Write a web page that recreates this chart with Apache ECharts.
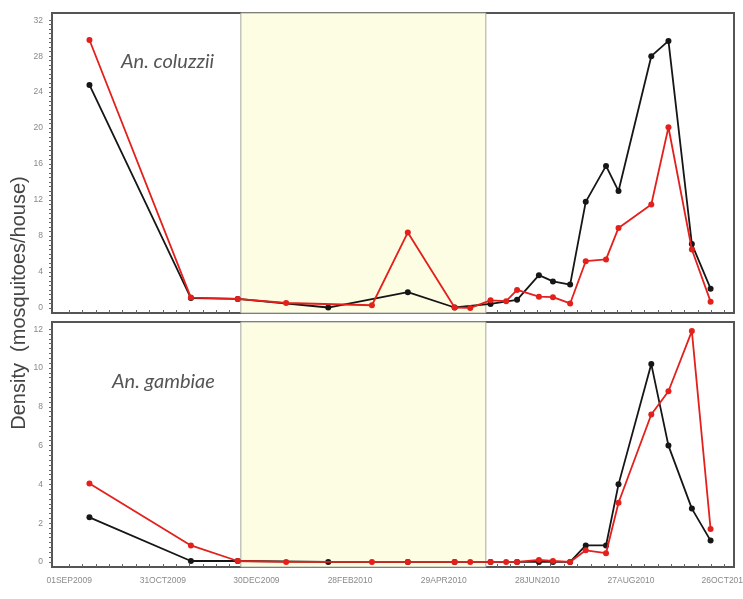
<!DOCTYPE html>
<html><head><meta charset="utf-8">
<script src="https://cdn.jsdelivr.net/npm/echarts@6/dist/echarts.min.js"></script>
<style>html,body{margin:0;padding:0;background:#fff}#c{width:743px;height:599px}</style>
</head><body><div id="c"></div>
<script>
// ---- data ----
const originDate = '2009-09-01';
const xTickDates = ['2009-09-01','2009-10-31','2009-12-30','2010-02-28','2010-04-29','2010-06-28','2010-08-27','2010-10-26'];
const xTickLabels = ['01SEP2009','31OCT2009','30DEC2009','28FEB2010','29APR2010','28JUN2010','27AUG2010','26OCT2010'];
const shadeDates = ['2009-12-20','2010-05-26'];

const blackDates = ['2009-09-14','2009-11-18','2009-12-18','2010-02-14','2010-04-06','2010-05-06','2010-05-29','2010-06-15',
  '2010-06-29','2010-07-08','2010-07-19','2010-07-29','2010-08-11','2010-08-19','2010-09-09','2010-09-20','2010-10-05','2010-10-17'];
const redDates = ['2009-09-14','2009-11-18','2009-12-18','2010-01-18','2010-03-14','2010-04-06','2010-05-06','2010-05-16','2010-05-29',
  '2010-06-08','2010-06-15','2010-06-29','2010-07-08','2010-07-19','2010-07-29','2010-08-11','2010-08-19','2010-09-09','2010-09-20','2010-10-05','2010-10-17'];

const coluzziiBlack = [24.8, 1.1, 1.0, 0.05, 1.75, 0.05, 0.45, 0.9, 3.65, 2.95, 2.6, 11.8, 15.8, 13.0, 28.0, 29.7, 7.1, 2.15];
const coluzziiRed   = [29.8, 1.15, 1.0, 0.55, 0.3, 8.4, 0.05, 0.0, 0.85, 0.75, 2.0, 1.25, 1.2, 0.5, 5.2, 5.4, 8.9, 11.5, 20.1, 6.5, 0.7];
const gambiaeBlack  = [2.3, 0.05, 0.05, 0.0, 0.0, 0.0, 0.0, 0.0, 0.0, 0.0, 0.0, 0.85, 0.85, 4.0, 10.2, 6.0, 2.75, 1.1];
const gambiaeRed    = [4.05, 0.85, 0.05, 0.0, 0.0, 0.0, 0.0, 0.0, 0.0, 0.0, 0.0, 0.1, 0.05, 0.0, 0.6, 0.45, 3.05, 7.6, 8.8, 11.9, 1.7];

const coluzziiTicks = [0, 4, 8, 12, 16, 20, 24, 28, 32];
const gambiaeTicks = [0, 2, 4, 6, 8, 10, 12];

const panelTitles = ['An. coluzzii', 'An. gambiae'];
const yTitle = 'Density  (mosquitoes/house)';

// ---- helpers ----
function dayOf(s) { return Math.round((Date.parse(s + 'T00:00:00Z') - Date.parse(originDate + 'T00:00:00Z')) / 86400000); }
function pairs(dates, vals) { return dates.map((d, i) => [dayOf(d), vals[i]]); }
function minorOf(ticks, n) {
  const out = [];
  for (let i = 0; i < ticks.length - 1; i++) {
    const step = (ticks[i + 1] - ticks[i]) / n;
    for (let k = 0; k < n; k++) out.push(ticks[i] + k * step);
  }
  out.push(ticks[ticks.length - 1]);
  return out;
}
const xTickDays = xTickDates.map(dayOf);
const xMinor = [];
for (let v = 0; v <= 426; v += 60 / 7) xMinor.push(v);
const labelByDay = {};
xTickDays.forEach((d, i) => labelByDay[d] = xTickLabels[i]);

const BLACK = '#161616', RED = '#e3201b';
const XMIN = -11, XMAX = 426;

function xAxisFor(idx, showLabels) {
  return {
    type: 'value', gridIndex: idx, min: XMIN, max: XMAX,
    axisLine: { show: true, onZero: false, lineStyle: { color: '#555', width: 2 } },
    axisTick: { show: true, inside: true, length: 3, customValues: xMinor, lineStyle: { color: '#666' } },
    axisLabel: {
      show: showLabels, customValues: xTickDays, margin: 9,
      formatter: v => labelByDay[Math.round(v)] || '',
      color: '#8a8a8a', fontSize: 8.5, fontFamily: 'Liberation Sans'
    },
    splitLine: { show: false }
  };
}
function yAxisFor(idx, min, max, ticks) {
  return {
    type: 'value', gridIndex: idx, min: min, max: max,
    axisLine: { show: true, onZero: false, lineStyle: { color: '#555', width: 2 } },
    axisTick: { show: true, length: 3, customValues: minorOf(ticks, 8), lineStyle: { color: '#666' } },
    axisLabel: { customValues: ticks, margin: 9, color: '#888', fontSize: 8.5, fontFamily: 'Liberation Sans' },
    splitLine: { show: false }
  };
}
function shade() {
  return {
    silent: true,
    itemStyle: { color: '#fdfde4', borderColor: '#a8a8a0', borderWidth: 1 },
    data: [[{ xAxis: dayOf(shadeDates[0]) }, { xAxis: dayOf(shadeDates[1]) }]]
  };
}
function line(name, idx, data, color, withShade) {
  const s = {
    name: name, type: 'line', xAxisIndex: idx, yAxisIndex: idx, data: data,
    symbol: 'circle', symbolSize: 6, showSymbol: true,
    lineStyle: { color: color, width: 1.8 }, itemStyle: { color: color },
    z: color === RED ? 4 : 3
  };
  if (withShade) s.markArea = shade();
  return s;
}

const chart = echarts.init(document.getElementById('c'), null, { renderer: 'canvas' });
chart.setOption({
  animation: false,
  backgroundColor: '#fff',
  grid: [
    { left: 52, right: 9, top: 13, height: 300, show: true, borderColor: '#555', borderWidth: 2, backgroundColor: 'transparent', containLabel: false, outerBoundsMode: 'none' },
    { left: 52, right: 9, top: 322, height: 245, show: true, borderColor: '#555', borderWidth: 2, backgroundColor: 'transparent', containLabel: false, outerBoundsMode: 'none' }
  ],
  xAxis: [xAxisFor(0, false), xAxisFor(1, true)],
  yAxis: [yAxisFor(0, -0.56, 32.8, coluzziiTicks), yAxisFor(1, -0.26, 12.37, gambiaeTicks)],
  series: [
    line('coluzzii black', 0, pairs(blackDates, coluzziiBlack), BLACK, true),
    line('coluzzii red', 0, pairs(redDates, coluzziiRed), RED, false),
    line('gambiae black', 1, pairs(blackDates, gambiaeBlack), BLACK, true),
    line('gambiae red', 1, pairs(redDates, gambiaeRed), RED, false)
  ],
  graphic: [
    { type: 'text', x: 19, y: 303, rotation: Math.PI / 2, z: 10,
      style: { text: yTitle, fill: '#444', font: '20px "Liberation Sans"', align: 'center', verticalAlign: 'middle' } },
    { type: 'text', x: 121, y: 62, z: 10,
      style: { text: panelTitles[0], fill: '#555', font: 'italic 20px Lato', align: 'left', verticalAlign: 'middle' } },
    { type: 'text', x: 112, y: 382, z: 10,
      style: { text: panelTitles[1], fill: '#555', font: 'italic 20px Lato', align: 'left', verticalAlign: 'middle' } }
  ]
});
</script>
</body></html>
